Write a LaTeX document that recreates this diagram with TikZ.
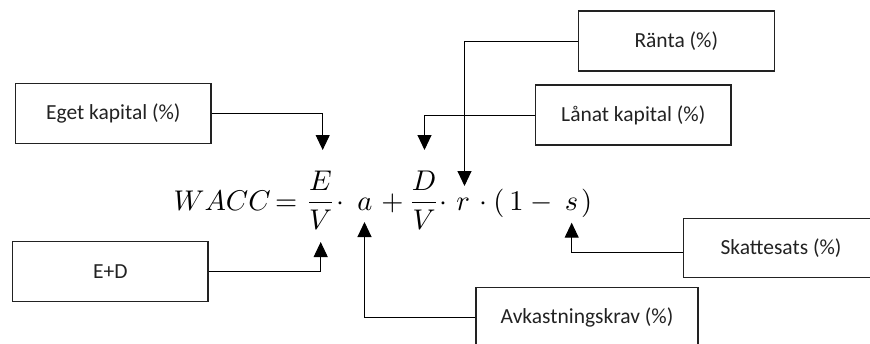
\documentclass[tikz,border=0pt]{standalone}
\usepackage{fontspec}
\newfontfamily\boxfont{Carlito}
\usetikzlibrary{arrows.meta}
\definecolor{ink}{HTML}{222222}
\newcommand{\eqpart}[1]{\scalebox{2.85}{$#1$}}
\tikzset{
  lbl/.style={draw=ink, line width=1.1pt, minimum height=60pt, inner sep=0pt,
    font=\boxfont\fontsize{21.5}{25}\selectfont, text=ink},
  sym/.style={anchor=base, inner sep=0pt, text=black},
  conn/.style={draw=black, line width=1pt, -{Triangle[width=14pt,length=15pt]}}
}
\begin{document}
\begin{tikzpicture}[x=1pt,y=-1pt]
\useasboundingbox (0,0) rectangle (870,343);
\clip (0,0) rectangle (870,343);
% boxes
\node[lbl, minimum width=195.3pt] (eget)  at (113.3,113.3) {Eget kapital (\%)};
\node[lbl, minimum width=195.3pt] (ed)    at (110.3,271.7) {E+D};
\node[lbl, minimum width=196pt]   (ranta) at (676.3,41)    {Ränta (\%)};
\node[lbl, minimum width=195.3pt] (lanat) at (633.3,115)   {Lånat kapital (\%)};
\node[lbl, minimum width=195.6pt, minimum height=59.4pt] (skatt) at (781,248) {Skattesats (\%)};
\node[lbl, minimum width=222pt]   (avk)   at (587,317.3)   {Avkastningskrav (\%)};
% equation pieces
\node[sym] (wacc)  at (222.2,210) {\eqpart{WACC}};
\node[sym] (eq)    at (286.3,210) {\eqpart{=}};
\node[sym] (ev)    at (320.5,210) {\eqpart{\displaystyle\frac{E}{V}}};
\node[sym] (d1)    at (340,210)   {\eqpart{\cdot}};
\node[sym] (a)     at (365,210)   {\eqpart{a}};
\node[sym] (plus)  at (392.5,210) {\eqpart{+}};
\node[sym] (dv)    at (424,210)   {\eqpart{\displaystyle\frac{D}{V}}};
\node[sym] (d2)    at (443,210)   {\eqpart{\cdot}};
\node[sym] (r)     at (463.3,210) {\eqpart{r}};
\node[sym] (d3)    at (483,210)   {\eqpart{\cdot}};
\node[sym] (lp)    at (499,210)   {\eqpart{(}};
\node[sym] (one)   at (516.5,210) {\eqpart{1}};
\node[sym] (minus) at (541.5,210) {\eqpart{-}};
\node[sym] (s)     at (571.5,210) {\eqpart{s}};
\node[sym] (rp)    at (586.7,210) {\eqpart{)}};
% arrow targets
\coordinate (tE) at (322.7,150);
\coordinate (tV) at (320.7,242);
\coordinate (tA) at (364.5,222);
\coordinate (tD) at (424.5,150);
\coordinate (tR) at (464.5,186);
\coordinate (tS) at (571.7,222.7);
% connectors
\draw[conn] (eget.east) -| (tE);
\draw[conn] (ed.east) -| (tV);
\draw[conn] (avk.west) -| (tA);
\draw[conn] (lanat.west) -| (tD);
\draw[conn] (ranta.west) -| (tR);
\draw[conn] ([yshift=-4pt]skatt.west) -| (tS);
\end{tikzpicture}
\end{document}
